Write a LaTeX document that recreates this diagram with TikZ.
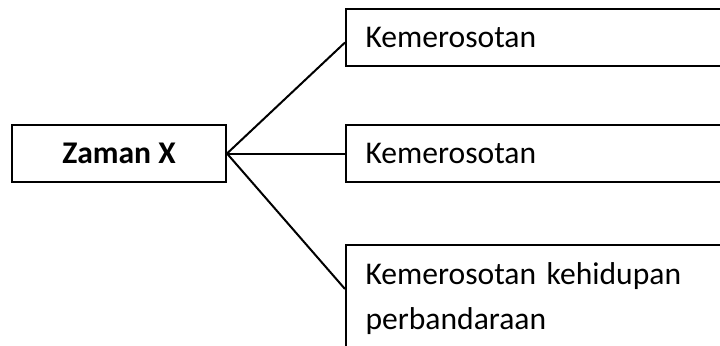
\documentclass[tikz,border=0pt]{standalone}
\usepackage{fontspec}
\setmainfont{Carlito}
\usetikzlibrary{positioning}

\begin{document}
\begin{tikzpicture}[x=0.5pt, y=-0.5pt, line width=1pt,
    box/.style={draw, rectangle, minimum height=28.5pt, inner xsep=10.5pt,
      font=\fontsize{15.8}{22.5}\selectfont},
    item/.style={box, minimum width=210pt, inner xsep=9.75pt, text width=190.5pt, align=left}]
    \clip (0,0) rectangle (720,345);
    \node (zaman) [box, minimum width=107pt, font=\fontsize{15.8}{22.5}\selectfont\bfseries]
      at (119,153.5) {Zaman X};
    \node (mid) [item, right=59pt of zaman] {Kemerosotan};
    \node (top) [item, above=28.5pt of mid.north west, anchor=south west] {Kemerosotan};
    \node (bot) [item, below=30.5pt of mid.south west, anchor=north west, inner ysep=9pt]
      {Kemerosotan kehidupan\\ perbandaraan};

    \draw (zaman.east) -- ([yshift=-2.5pt]top.west);
    \draw (zaman.east) -- (mid.west);
    \draw (zaman.east) -- ([yshift=-22.5pt]bot.north west);
  \end{tikzpicture}
\end{document}
